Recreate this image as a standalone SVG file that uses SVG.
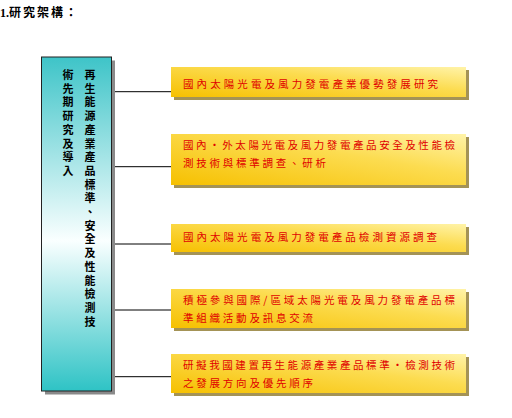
<svg xmlns="http://www.w3.org/2000/svg" width="512" height="418" viewBox="0 0 512 418">
<defs>
<linearGradient id="teal" x1="0" y1="0" x2="0" y2="1">
<stop offset="0" stop-color="#3EC4C8"/>
<stop offset="0.55" stop-color="#FAFFFF"/>
<stop offset="1" stop-color="#2EC3C5"/>
</linearGradient>
<linearGradient id="gold" x1="0" y1="1" x2="1" y2="0">
<stop offset="0" stop-color="#F6C000"/>
<stop offset="0.6" stop-color="#FCDC50"/>
<stop offset="1" stop-color="#FFF3A8"/>
</linearGradient>
<style>
.title{font-family:"Liberation Serif","Noto Sans CJK TC",serif;font-size:12px;font-weight:bold;fill:#000}
.vt{font-family:"Noto Sans CJK TC",sans-serif;font-size:11px;font-weight:bold;fill:#000;text-anchor:middle}
.yt{font-family:"Noto Sans CJK TC",sans-serif;font-size:10.5px;fill:#E00000}
.ybox{fill:url(#gold)}
.ysh{fill:#A49356}
.conn line{stroke:#000;stroke-width:1}
</style>
</defs>
<rect width="512" height="418" fill="#fff"/>
<text class="title" x="0" y="17">1.<tspan font-family="Noto Sans CJK TC, sans-serif" letter-spacing="2">研究架構：</tspan></text>

<g class="conn">
<line x1="112" y1="91.7" x2="171" y2="91.7"/>
<line x1="112" y1="166.7" x2="171" y2="166.7"/>
<line x1="112" y1="244" x2="171" y2="244"/>
<line x1="112" y1="310" x2="171" y2="310"/>
<line x1="112" y1="376.7" x2="171" y2="376.7"/>
</g>

<g id="main">
<rect x="45" y="60.5" width="70" height="334" fill="#8A8A8A"/>
<rect x="41.5" y="57" width="70" height="334" fill="url(#teal)" stroke="#222" stroke-width="1"/>
<text class="vt" x="90 90 90 90 90 90 90 90 90 90 90 90 90 90 90 90 90 90 90" y="79 92.7 106.4 120.1 133.8 147.5 161.2 174.9 188.6 202.3 216 229.7 243.4 257.1 270.8 284.5 298.2 311.9 325.6">再生能源產業產品標準、安全及性能檢測技</text>
<text class="vt" x="68 68 68 68 68 68 68 68" y="79 92.7 106.4 120.1 133.8 147.5 161.2 174.9">術先期研究及導入</text>
</g>

<g id="b1">
<rect class="ysh" x="174" y="70" width="295" height="30"/>
<rect class="ybox" x="171" y="67" width="295" height="30"/>
<text class="yt" x="183" y="88" textLength="255">國內太陽光電及風力發電產業優勢發展研究</text>
</g>
<g id="b2">
<rect class="ysh" x="174" y="137" width="295" height="51"/>
<rect class="ybox" x="171" y="134" width="295" height="51"/>
<text class="yt" x="183" y="149" textLength="272">國內‧外太陽光電及風力發電產品安全及性能檢</text>
<text class="yt" x="183" y="167" textLength="143">測技術與標準調查、研析</text>
</g>
<g id="b3">
<rect class="ysh" x="174" y="227" width="295" height="28"/>
<rect class="ybox" x="171" y="224" width="295" height="28"/>
<text class="yt" x="183" y="241" textLength="254">國內太陽光電及風力發電產品檢測資源調查</text>
</g>
<g id="b4">
<rect class="ysh" x="174" y="292" width="295" height="39"/>
<rect class="ybox" x="171" y="289" width="295" height="39"/>
<text class="yt" x="183" y="304" textLength="272">積極參與國際/區域太陽光電及風力發電產品標</text>
<text class="yt" x="183" y="322" textLength="130">準組織活動及訊息交流</text>
</g>
<g id="b5">
<rect class="ysh" x="174" y="357" width="295" height="39"/>
<rect class="ybox" x="171" y="354" width="295" height="39"/>
<text class="yt" x="183" y="369" textLength="272">研擬我國建置再生能源產業產品標準‧檢測技術</text>
<text class="yt" x="183" y="387" textLength="130">之發展方向及優先順序</text>
</g>
</svg>
